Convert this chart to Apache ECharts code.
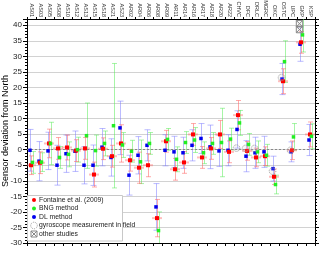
<!DOCTYPE html>
<html><head><meta charset="utf-8">
<script src="https://cdn.jsdelivr.net/npm/echarts@6/dist/echarts.min.js"></script>
<style>html,body{margin:0;padding:0;background:#fff}#c{width:320px;height:257px}</style>
</head><body><div id="c"></div>
<script>
const categories = ['AS01','AS03','AS05','AS08','AS10','AS12','AS13','AS15','AS18','AS21','AS23','AR02','AR04','AR06','AR08','AR09','AR11','AR14','AR16','AR17','AR18','AR20','AR22','CHVC','DFC','DRLC','MGRC','OKC','OSTC','UPC','GKP','KSP'];
const fontaine    = [-5.0,-4.2, 2.0, 0.4, 0.7,-0.3, 0.4,-8.0, 0.3,-2.1, 2.0,-3.4,-5.8,-5.0,-22.0, 2.7,-6.3,-4.1, 4.9,-2.5, 0.4, 4.9,-0.7,11.1,-0.4,-2.5,-2.1,-8.7,22.0,-0.2,34.5, 4.9];
const fontaineErr = [ 3.0, 3.5, 4.6, 3.5, 4.0, 3.5, 3.5, 4.0, 3.5, 3.5, 6.0, 3.5, 5.0, 3.7, 6.0, 3.5, 3.5, 3.5, 3.5, 3.5, 3.5, 4.5, 3.5, 4.7, 3.0, 3.0, 3.0, 2.5, 4.0, 3.0, 3.5, 4.0];
const bng         = [-4.1,-4.0, 2.0,-2.5,-1.5, 0.0, 4.5,-0.3, 2.0, 7.7, 1.5,-0.5,-3.9, 2.0,-26.0, 3.3,-3.1, 2.3, 3.1,-1.0, 2.0, 2.3, 3.4, 8.6, 1.7,-0.7,-1.8,-11.2,28.3, 4.1,36.9, 4.3];
const bngErr      = [ 3.5, 3.0, 6.8, 3.5, 4.0, 4.0,10.5, 5.0, 4.0,20.0, 4.0, 3.5, 7.0, 3.5, 6.0, 3.5, 4.0, 3.5, 4.0, 3.5, 3.5,11.0, 3.5, 4.0, 3.5, 3.5, 3.5, 3.0, 6.7, 4.3, 5.5, 4.0];
const dl          = [-0.2,-3.7,-0.4,-5.0,-1.3,-0.5,-5.0,-5.0, 0.8,-2.5, 7.0,-8.2,-1.8, 1.4,-18.4,-0.2,-0.7,-1.0, 1.4, 3.6, 0.9,-0.4,-0.2, 6.5,-2.1,-1.0,-0.7,-6.1,22.7,-0.7,33.9, 3.1];
const dlErr       = [ 6.7, 6.3, 6.0, 6.4, 6.0, 6.5, 6.0, 6.5, 6.0, 6.0, 8.6, 6.4, 6.0, 5.0, 7.5, 5.0, 5.0, 5.0, 5.0, 4.8, 7.0, 5.0, 5.0, 6.0, 5.0, 5.0, 5.0, 4.0, 5.0, 3.2, 5.5, 5.0];
const gyroscope   = [null,null,null,null,null,null,null,null,null,null,null,null,null,null,null,null,null,null,null,null,null,null,null, 0.5, 0.4, 0.4,null,-6.9,23.2,-0.2,null,null];
const otherStudies= [null,null,null,null,null,null,null,null,null,null,null,null,null,null,null,null,null,null,null,null,null,null,null,null,null,null,null,null,null,null,[40.5,38.6],null];
const yMin = -30, yMax = 42, yStep = 5;
const legendNames = ['Fontaine et al. (2009)','BNG method','DL method','gyroscope measurement in field','other studies'];

function errSeries(vals, errs, color, capW, dx, z) {
  return {
    type: 'custom', z: z, clip: true, silent: true,
    data: vals.map((v, i) => [i, v, errs[i]]),
    renderItem(params, api) {
      const i = api.value(0), v = api.value(1), e = api.value(2);
      const t = api.coord([i, v + e]), b = api.coord([i, v - e]);
      const x = Math.round(t[0] + dx) + 0.5;
      const style = {stroke: color, lineWidth: 1};
      return {type: 'group', children: [
        {type: 'line', shape: {x1: x, y1: t[1], x2: x, y2: b[1]}, style},
        {type: 'line', shape: {x1: x - capW / 2, y1: t[1], x2: x + capW / 2, y2: t[1]}, style},
        {type: 'line', shape: {x1: x - capW / 2, y1: b[1], x2: x + capW / 2, y2: b[1]}, style}
      ]};
    }
  };
}
function markerSeries(vals, color, size, dx, z, bar) {
  return {
    type: 'custom', z: z, clip: true, silent: true,
    data: vals.map((v, i) => [i, v]),
    renderItem(params, api) {
      const p = api.coord([api.value(0), api.value(1)]);
      const x = p[0] + dx;
      const ch = [];
      if (bar) ch.push({type: 'rect', shape: {x: x - 5, y: p[1] - 1, width: 10, height: 2}, style: {fill: bar}});
      ch.push({type: 'rect', shape: {x: x - size / 2, y: p[1] - size / 2, width: size, height: size}, style: {fill: color}});
      return {type: 'group', children: ch};
    }
  };
}
const gyroData = [];
gyroscope.forEach((v, i) => { if (v !== null) gyroData.push([i, v]); });
const otherData = [];
otherStudies.forEach((a, i) => { if (a) a.forEach(v => otherData.push([i, v])); });

const chart = echarts.init(document.getElementById('c'), null, {renderer: 'canvas'});
const axisLine = {show: true, onZero: false, lineStyle: {color: '#000', width: 1}};
chart.setOption({
  animation: false,
  backgroundColor: '#fff',
  grid: {left: 27, right: 5, top: 19, bottom: 14, containLabel: false, outerBoundsMode: 'none'},
  xAxis: [
    {type: 'category', data: categories, position: 'top', boundaryGap: true, axisLine,
     axisTick: {show: true, interval: 0, length: 2, lineStyle: {color: '#000'}},
     axisLabel: {interval: 0, rotate: 90, fontSize: 5.5, color: '#333', margin: 2, fontFamily: 'Liberation Sans'},
     splitLine: {show: false}},
    {type: 'category', data: categories, position: 'bottom', boundaryGap: true, axisLine,
     axisTick: {show: true, interval: 0, length: 3, lineStyle: {color: '#000'}},
     axisLabel: {show: false}, splitLine: {show: false}}
  ],
  yAxis: [
    {type: 'value', min: yMin, max: yMax, interval: yStep, position: 'left', axisLine,
      name: 'Sensor deviation from North', nameLocation: 'middle', nameGap: 17, nameMoveOverlap: false,
      nameTextStyle: {fontSize: 9, color: '#000', fontFamily: 'Liberation Sans'},
      axisTick: {show: true, length: 4, lineStyle: {color: '#000'}},
      minorTick: {show: true, splitNumber: 5, length: 2, lineStyle: {color: '#000'}},
      axisLabel: {show: true, fontSize: 8, color: '#222', margin: 5, fontFamily: 'Liberation Sans',
        formatter: v => (v % yStep === 0 ? String(v) : '')},
      splitLine: {show: true, lineStyle: {color: '#d2d2d2', width: 1}}},
    {type: 'value', min: yMin, max: yMax, interval: yStep, position: 'right', axisLine,
      axisTick: {show: true, length: 4, lineStyle: {color: '#000'}},
      minorTick: {show: true, splitNumber: 5, length: 2, lineStyle: {color: '#000'}},
      axisLabel: {show: false}, splitLine: {show: false}}
  ],
  series: [
    Object.assign(errSeries(dl, dlErr, 'rgba(120,120,255,0.5)', 6, -1.5, 3), {
      markLine: {silent: true, symbol: 'none', label: {show: false},
        lineStyle: {type: [2, 2], color: '#888', width: 1}, data: [{yAxis: 0}]}}),
    errSeries(bng, bngErr, 'rgba(80,235,80,0.5)', 5, 1, 4),
    errSeries(fontaine, fontaineErr, 'rgba(255,100,100,0.55)', 5, -0.5, 5),
    markerSeries(dl, '#0000ee', 3.5, -1.5, 6),
    markerSeries(fontaine, '#ff0000', 4, -0.5, 7, 'rgba(255,110,110,0.45)'),
    markerSeries(bng, '#22ee22', 3.5, 1, 8),
    {type: 'custom', z: 9, clip: true, silent: true, data: gyroData,
     renderItem(params, api) {
       const p = api.coord([api.value(0), api.value(1)]);
       return {type: 'circle', shape: {cx: p[0] - 2, cy: p[1], r: 3.3},
         style: {fill: 'rgba(200,200,200,0.15)', stroke: '#999', lineWidth: 1, lineDash: [1, 1]}};
     }},
    {type: 'custom', z: 9, clip: true, silent: true, data: otherData,
     renderItem(params, api) {
       const p = api.coord([api.value(0), api.value(1)]);
       const x = p[0] - 2, y = p[1], h = 3.2;
       const st = {stroke: '#888', lineWidth: 1, fill: 'none'};
       return {type: 'group', children: [
         {type: 'rect', shape: {x: x - h, y: y - h, width: 2 * h, height: 2 * h}, style: {fill: 'rgba(220,220,220,0.2)', stroke: '#888', lineWidth: 1}},
         {type: 'line', shape: {x1: x - h, y1: y - h, x2: x + h, y2: y + h}, style: st},
         {type: 'line', shape: {x1: x - h, y1: y + h, x2: x + h, y2: y - h}, style: st}
       ]};
     }}
  ],
  graphic: [
    {type: 'rect', z: 100, shape: {x: 27.5, y: 195.5, width: 95, height: 45.5}, style: {fill: '#fff', stroke: '#c8c8c8', lineWidth: 1}},
    {type: 'circle', z: 101, shape: {cx: 34, cy: 200, r: 2}, style: {fill: '#ff0000'}},
    {type: 'circle', z: 101, shape: {cx: 34, cy: 208.5, r: 2}, style: {fill: '#22ee22'}},
    {type: 'circle', z: 101, shape: {cx: 34, cy: 217, r: 2}, style: {fill: '#0000ee'}},
    {type: 'circle', z: 101, shape: {cx: 34, cy: 225.5, r: 3.3}, style: {fill: 'none', stroke: '#999', lineWidth: 1, lineDash: [1, 1]}},
    {type: 'rect', z: 101, shape: {x: 31, y: 231, width: 6, height: 6}, style: {fill: 'none', stroke: '#888', lineWidth: 1}},
    {type: 'line', z: 101, shape: {x1: 31, y1: 231, x2: 37, y2: 237}, style: {stroke: '#888', lineWidth: 1}},
    {type: 'line', z: 101, shape: {x1: 31, y1: 237, x2: 37, y2: 231}, style: {stroke: '#888', lineWidth: 1}}
  ].concat(legendNames.map((t, k) => ({type: 'text', z: 101,
    style: {x: 39, y: [200, 208.5, 217, 225.5, 234][k], text: t, fill: '#222', font: '6.8px "Liberation Sans"', textVerticalAlign: 'middle'}})))
});
</script></body></html>
